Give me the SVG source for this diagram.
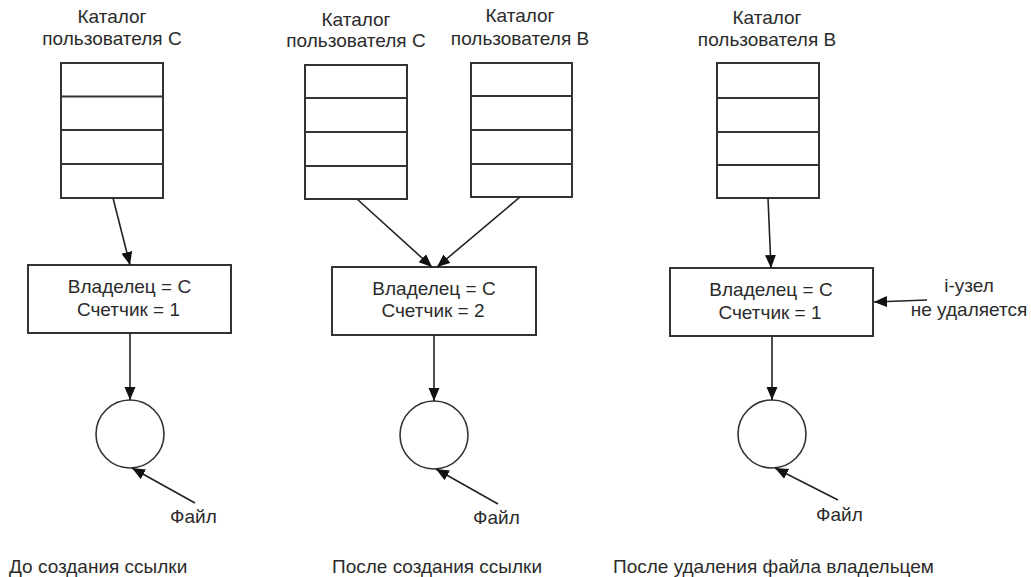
<svg xmlns="http://www.w3.org/2000/svg" width="1031" height="577" viewBox="0 0 1031 577">
  <style>
    text { font-family: "Liberation Sans", Arial, sans-serif; font-size: 19px; fill: #2b2b2b; }
    .mid { text-anchor: middle; }
    .box { fill: #fff; stroke: #333; stroke-width: 2; }
    .row { stroke: #333; stroke-width: 2; }
    .file { fill: #fff; stroke: #333; stroke-width: 1.6; }
    .conn { stroke: #222; stroke-width: 1.6; fill: none; marker-end: url(#arrow); }
  </style>
  <defs>
    <marker id="arrow" markerUnits="userSpaceOnUse" markerWidth="14" markerHeight="12" refX="13" refY="5.5" orient="auto">
      <path d="M0,0 L13,5.5 L0,11 Z" fill="#111"/>
    </marker>
  </defs>

  <rect width="1031" height="577" fill="#fff"/>

  <!-- Panel 1: before the link is created -->
  <g id="dir-c-1">
    <text class="mid" x="112" y="23">Каталог</text>
    <text class="mid" x="112" y="45">пользователя C</text>
    <rect class="box" x="61" y="63" width="102" height="135"/>
    <line class="row" x1="61" y1="96.5" x2="163" y2="96.5"/>
    <line class="row" x1="61" y1="130" x2="163" y2="130"/>
    <line class="row" x1="61" y1="164" x2="163" y2="164"/>
  </g>
  <g id="inode-1">
    <rect class="box" x="28" y="265" width="203" height="68"/>
    <text class="mid" x="129.5" y="293">Владелец = C</text>
    <text class="mid" x="128.5" y="316">Счетчик = 1</text>
  </g>
  <g id="file-1">
    <circle class="file" cx="130" cy="434" r="34"/>
    <text x="170" y="523">Файл</text>
  </g>
  <g id="caption-1">
    <text x="9" y="573">До создания ссылки</text>
  </g>

  <!-- Panel 2: after the link is created -->
  <g id="dir-c-2">
    <text class="mid" x="356" y="26">Каталог</text>
    <text class="mid" x="356" y="47">пользователя C</text>
    <rect class="box" x="305" y="65" width="102" height="134"/>
    <line class="row" x1="305" y1="98" x2="407" y2="98"/>
    <line class="row" x1="305" y1="132" x2="407" y2="132"/>
    <line class="row" x1="305" y1="166" x2="407" y2="166"/>
  </g>
  <g id="dir-b-2">
    <text class="mid" x="520" y="22">Каталог</text>
    <text class="mid" x="520" y="45">пользователя B</text>
    <rect class="box" x="471" y="63" width="101" height="134"/>
    <line class="row" x1="471" y1="96" x2="572" y2="96"/>
    <line class="row" x1="471" y1="130" x2="572" y2="130"/>
    <line class="row" x1="471" y1="164" x2="572" y2="164"/>
  </g>
  <g id="inode-2">
    <rect class="box" x="332" y="267" width="204" height="68"/>
    <text class="mid" x="434" y="295">Владелец = C</text>
    <text class="mid" x="433" y="317">Счетчик = 2</text>
  </g>
  <g id="file-2">
    <circle class="file" cx="434" cy="435" r="34"/>
    <text x="473" y="524">Файл</text>
  </g>
  <g id="caption-2">
    <text x="332" y="573">После создания ссылки</text>
  </g>

  <!-- Panel 3: after the owner removes the file -->
  <g id="dir-b-3">
    <text class="mid" x="767" y="24">Каталог</text>
    <text class="mid" x="767" y="46">пользователя B</text>
    <rect class="box" x="717" y="63" width="102" height="135"/>
    <line class="row" x1="717" y1="98" x2="819" y2="98"/>
    <line class="row" x1="717" y1="132" x2="819" y2="132"/>
    <line class="row" x1="717" y1="165" x2="819" y2="165"/>
  </g>
  <g id="inode-3">
    <rect class="box" x="670" y="268" width="203" height="68"/>
    <text class="mid" x="771" y="296">Владелец = C</text>
    <text class="mid" x="770" y="319">Счетчик = 1</text>
  </g>
  <g id="inode-note">
    <text class="mid" x="969" y="292">i-узел</text>
    <text class="mid" x="969" y="316">не удаляется</text>
  </g>
  <g id="file-3">
    <circle class="file" cx="772" cy="434" r="34"/>
    <text x="816" y="521">Файл</text>
  </g>
  <g id="caption-3">
    <text x="613" y="573">После удаления файла владельцем</text>
  </g>

  <!-- Connectors -->
  <g id="connectors">
    <line class="conn" x1="113" y1="198" x2="130" y2="265"/>
    <line class="conn" x1="130" y1="333" x2="130" y2="400"/>
    <line class="conn" x1="195" y1="503" x2="132" y2="468"/>

    <line class="conn" x1="357" y1="199" x2="432" y2="267"/>
    <line class="conn" x1="520" y1="197" x2="437" y2="267"/>
    <line class="conn" x1="434" y1="335" x2="434" y2="401"/>
    <line class="conn" x1="498" y1="504" x2="436" y2="469"/>

    <line class="conn" x1="768" y1="198" x2="771" y2="268"/>
    <line class="conn" x1="772" y1="336" x2="772" y2="400"/>
    <line class="conn" x1="838" y1="500" x2="775" y2="468"/>
    <line class="conn" x1="927" y1="300" x2="874" y2="302"/>
  </g>
</svg>
